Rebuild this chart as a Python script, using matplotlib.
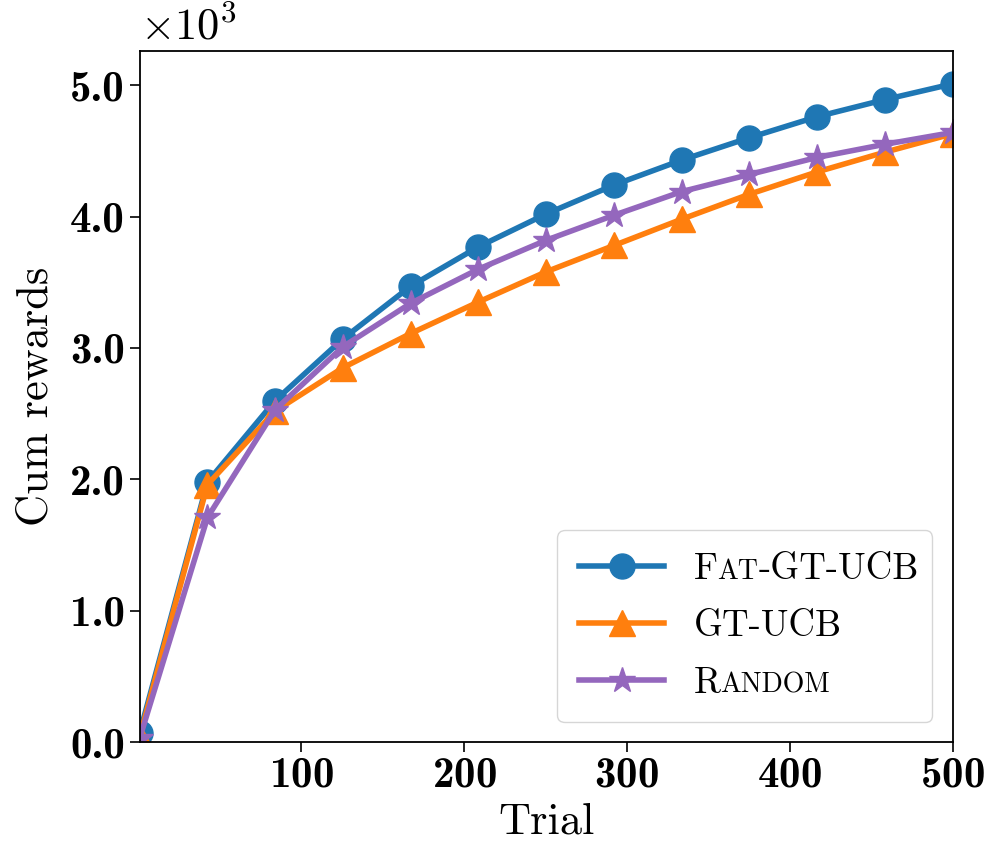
import numpy as np
import matplotlib
matplotlib.use('Agg')
import matplotlib.pyplot as plt
from matplotlib.ticker import ScalarFormatter

plt.rcParams['mathtext.fontset'] = 'cm'
plt.rcParams['axes.formatter.use_mathtext'] = True
plt.rcParams['font.family'] = ['cmr10', 'DejaVu Serif']

# data
trials = np.array([1, 42.6, 84.2, 125.8, 167.3, 208.9, 250.5, 292.1, 333.7, 375.2, 416.8, 458.4, 500])
fat_gt_ucb = [70, 1980, 2600, 3070, 3470, 3770, 4020, 4240, 4430, 4600, 4760, 4890, 5010]
gt_ucb = [40, 1960, 2520, 2850, 3110, 3350, 3580, 3780, 3980, 4170, 4340, 4490, 4630]
random_pol = [30, 1710, 2530, 3010, 3340, 3600, 3820, 4010, 4190, 4320, 4450, 4550, 4640]
x_ticks = [100, 200, 300, 400, 500]
y_ticks = [0, 1000, 2000, 3000, 4000, 5000]

fig = plt.figure(figsize=(10.05, 8.64), dpi=100)
ax = fig.add_axes([0.139, 0.141, 0.809, 0.800])

lw = 4
ax.plot(trials, fat_gt_ucb, '-o', color='#1f77b4', lw=lw, ms=18, label='Fat-GT-UCB')
ax.plot(trials, gt_ucb, '-^', color='#ff7f0e', lw=lw, ms=19, label='GT-UCB')
ax.plot(trials, random_pol, '-*', color='#9467bd', lw=lw, ms=19, label='Random')

ax.set_xlim(1, 500)
ax.set_ylim(0, 5260)
ax.set_xticks(x_ticks)
ax.set_yticks(y_ticks)

fmt = ScalarFormatter(useMathText=True)
fmt.set_powerlimits((0, 0))
ax.yaxis.set_major_formatter(fmt)
ax.set_yticklabels(['%.1f' % (v / 1000) for v in y_ticks])
ax.text(0.0, 1.003, r'$\times10^{3}$', transform=ax.transAxes, fontsize=32,
        ha='left', va='bottom')

for lab in ax.get_xticklabels() + ax.get_yticklabels():
    lab.set_family('cmb10')
    lab.set_fontsize(31)
ax.tick_params(length=7, width=1.2)
for s in ax.spines.values():
    s.set_linewidth(1.3)

ax.set_xlabel('Trial', fontsize=32, labelpad=5)
ax.set_ylabel('Cum rewards', fontsize=32, labelpad=10)

# legend: plain labels give the layout, small caps text is drawn in their place
big, small = 26.5, 20
leg = ax.legend(loc='lower right', fontsize=big, handlelength=2.3,
                borderaxespad=0.55, labelspacing=0.65, borderpad=0.6,
                handletextpad=0.8, fancybox=True)
pieces = [[('F', big), ('AT', small), ('-GT-UCB', big)],
          [('GT-UCB', big)],
          [('R', big), ('ANDOM', small)]]
fig.canvas.draw()
renderer = fig.canvas.get_renderer()
W, H = fig.bbox.width, fig.bbox.height
for txt, parts in zip(leg.get_texts(), pieces):
    bb = txt.get_window_extent(renderer)
    # baseline of the label in pixels
    _, _, descent = renderer.get_text_width_height_descent('lp', txt.get_fontproperties(), ismath=False)
    x = bb.x0
    y = bb.y0 + descent
    txt.set_visible(False)
    for s, size in parts:
        t = fig.text(x / W, y / H, s, fontsize=size, ha='left', va='baseline', zorder=10)
        x += t.get_window_extent(renderer).width

fig.savefig('out.png', dpi=100)
